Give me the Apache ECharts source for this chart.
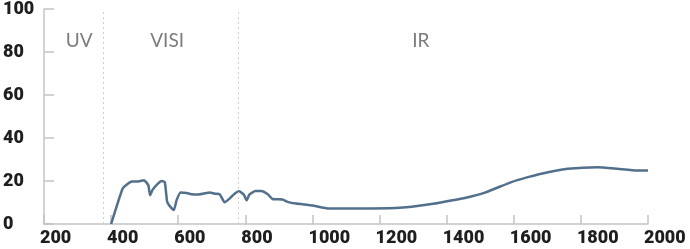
<!DOCTYPE html>
<html>
<head>
<meta charset="utf-8">
<script src="https://cdn.jsdelivr.net/npm/echarts@6/dist/echarts.min.js"></script>
<style>
html,body{margin:0;padding:0;background:#fff;}
#chart{width:690px;height:249px;}
</style>
</head>
<body>
<div id="chart"></div>
<script>
// Wavelength (nm) and values
const wavelengths = [400,434,447,462,481,498,511,516,524,541,551,560,567,575,587,595,607,625,642,654,674,694,709,724,738,753,768,781,795,804,812,830,847,867,881,911,926,951,1000,1049,1148,1247,1296,1365,1405,1454,1514,1593,1642,1702,1761,1850,1909,1968,2000];
const values = [0,16.4,18.4,19.8,19.8,20.4,18,13.4,16,19,20,19.5,10.3,8.3,6.5,11,14.6,14.4,13.8,13.7,14.1,14.7,14.1,13.8,10.1,11.8,14.1,15.2,13.8,11,13.7,15.3,15.3,13.8,11.6,11.4,10.3,9.5,8.6,7.2,7.2,7.4,8,9.5,10.7,12.1,14.6,19.5,21.8,24.1,25.7,26.4,25.7,24.9,24.9];
const boundaries = [378, 780];
const regionNames = ['UV', 'VISI', 'IR'];
const regionX = [305, 567, 1323];
const regionY = [85, 85, 85];
const xTicks = [200,400,600,800,1000,1200,1400,1600,1800,2000];
const yTicks = [0,20,40,60,80,100];

const lineData = wavelengths.map((w, i) => [w, values[i]]);
const regionData = regionNames.map((n, i) => [regionX[i], regionY[i], n]);

const chart = echarts.init(document.getElementById('chart'), null, {renderer: 'canvas'});
const axisColor = '#c4c4c4';
chart.setOption({
  animation: false,
  grid: {left: 39, right: 42, top: 7, bottom: 25, containLabel: false},
  xAxis: {
    type: 'value', min: xTicks[0], max: xTicks[xTicks.length-1], interval: 200,
    axisLine: {show: true, lineStyle: {color: axisColor, width: 1.5}},
    axisTick: {show: true, inside: true, length: 9, lineStyle: {color: axisColor, width: 1.5}},
    splitLine: {show: false},
    axisLabel: {
      show: true, margin: 5, align: 'left', padding: [0,0,0,-4],
      formatter: v => String(v),
      fontFamily: 'Roboto', fontWeight: 900, fontSize: 18, color: '#1e1e1e'
    }
  },
  yAxis: {
    type: 'value', min: yTicks[0], max: yTicks[yTicks.length-1], interval: 20,
    axisLine: {show: true, lineStyle: {color: axisColor, width: 1.5}},
    axisTick: {show: true, inside: true, length: 10, lineStyle: {color: axisColor, width: 1.5}},
    splitLine: {show: false},
    axisLabel: {
      show: true, margin: 41, align: 'left', padding: [6,0,0,0],
      formatter: v => String(v),
      fontFamily: 'Roboto', fontWeight: 900, fontSize: 18, color: '#1e1e1e'
    }
  },
  series: [
    {
      type: 'line',
      data: lineData,
      showSymbol: false,
      smooth: 0.15,
      lineStyle: {color: '#52708c', width: 2.5},
      z: 3,
      markLine: {
        silent: true,
        symbol: ['none', 'none'],
        label: {show: false},
        lineStyle: {color: '#cfcfcf', type: [2, 3], width: 1},
        data: boundaries.map(b => ({xAxis: b}))
      }
    },
    {
      type: 'scatter',
      data: regionData,
      symbolSize: 0,
      silent: true,
      label: {
        show: true, position: 'inside',
        formatter: p => p.data[2],
        fontFamily: 'Lato', fontWeight: 'normal', fontSize: 19, color: '#5a5a5a'
      }
    }
  ]
});
</script>
</body>
</html>
